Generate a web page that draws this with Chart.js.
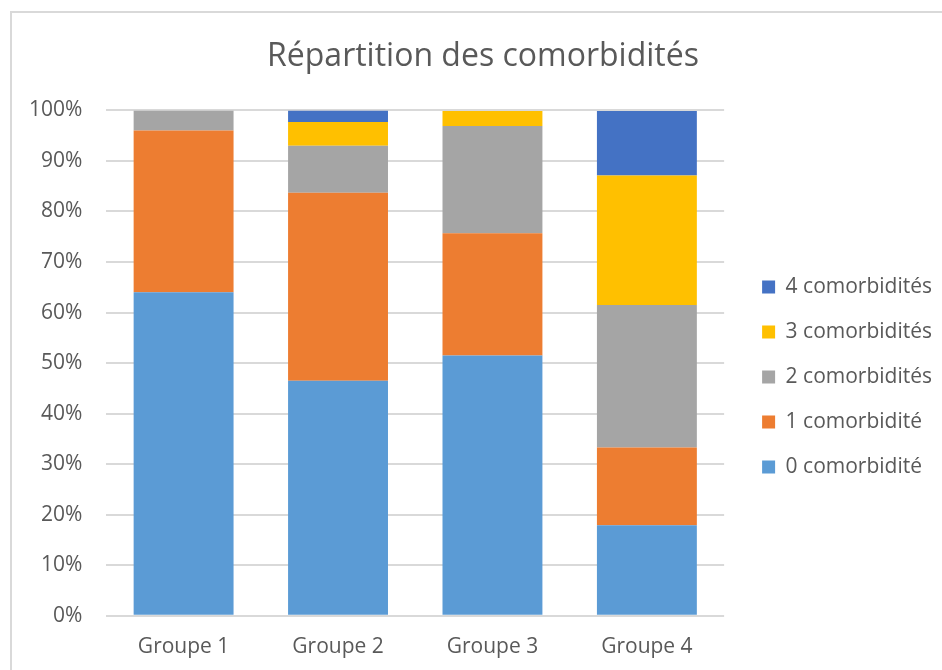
<!DOCTYPE html>
<html>
<head>
<meta charset="utf-8">
<script src="https://cdn.jsdelivr.net/npm/chart.js@4.4.0/dist/chart.umd.min.js"></script>
<style>
  html, body { margin: 0; padding: 0; background: #fff; overflow: hidden; }
  #frame { position: absolute; left: 10px; top: 11px; width: 960px; height: 700px;
           border-left: 2px solid #d9d9d9; border-top: 2px solid #d9d9d9; }
  #wrap { position: absolute; left: 0; top: 0; width: 942px; height: 680px; }
</style>
</head>
<body>
<div id="frame"></div>
<div id="wrap"><canvas id="chart"></canvas></div>
<script>
// Données (en %)
const groupes = ['Groupe 1', 'Groupe 2', 'Groupe 3', 'Groupe 4'];
const zeroComorb = [64, 46.5, 51.5, 17.9];
const uneComorb = [32, 37.2, 24.2, 15.4];
const deuxComorb = [4, 9.3, 21.2, 28.2];
const troisComorb = [0, 4.7, 3.0, 25.6];
const quatreComorb = [0, 2.3, 0, 12.8];

const gris = '#595959';
const police = 'Open Sans';

// petits décalages pour coller à la mise en page Excel
const decalage = {
    id: 'decalage',
    afterLayout(chart) {
        const lg = chart.legend;
        const a = chart.chartArea;
        lg.left += 14; lg.right += 14;
        const dy = (a.top + a.bottom) / 2 + 14 - (lg.top + lg.bottom) / 2;
        lg.top += dy; lg.bottom += dy;
        const tb = chart.titleBlock;
        const dx = 483 - (tb.left + tb.right) / 2;
        tb.left += dx; tb.right += dx;
    }
};

const ctx = document.getElementById('chart').getContext('2d');
new Chart(ctx, {
    type: 'bar',
    data: {
        labels: groupes,
        datasets: [
            { label: '0 comorbidité', data: zeroComorb, backgroundColor: '#5B9BD5' },
            { label: '1 comorbidité', data: uneComorb, backgroundColor: '#ED7D31' },
            { label: '2 comorbidités', data: deuxComorb, backgroundColor: '#A5A5A5' },
            { label: '3 comorbidités', data: troisComorb, backgroundColor: '#FFC000' },
            { label: '4 comorbidités', data: quatreComorb, backgroundColor: '#4472C4' }
        ]
    },
    options: {
        responsive: true,
        maintainAspectRatio: false,
        animation: false,
        datasets: { bar: { barPercentage: 0.647, categoryPercentage: 1 } },
        layout: { padding: { left: 5, right: 14, top: 0, bottom: 9 } },
        plugins: {
            tooltip: { enabled: false },
            title: {
                display: true,
                text: 'Répartition des comorbidités',
                color: gris,
                font: { family: police, size: 32, weight: 'normal' },
                padding: { top: 38, bottom: 34 }
            },
            legend: {
                position: 'right',
                reverse: true,
                labels: {
                    color: gris,
                    font: { family: police, size: 21 },
                    boxWidth: 13,
                    boxHeight: 13,
                    padding: 24
                }
            }
        },
        scales: {
            x: {
                stacked: true,
                grid: { display: false },
                border: { display: false },
                ticks: { color: gris, font: { family: police, size: 21 }, padding: 11 }
            },
            y: {
                stacked: true,
                min: 0,
                max: 100,
                grid: { color: '#d9d9d9', lineWidth: 2, drawTicks: false },
                border: { display: false },
                ticks: {
                    stepSize: 10,
                    color: gris,
                    font: { family: police, size: 21 },
                    padding: 24,
                    callback: v => v + '%'
                }
            }
        }
    },
    plugins: [decalage]
});
</script>
</body>
</html>
